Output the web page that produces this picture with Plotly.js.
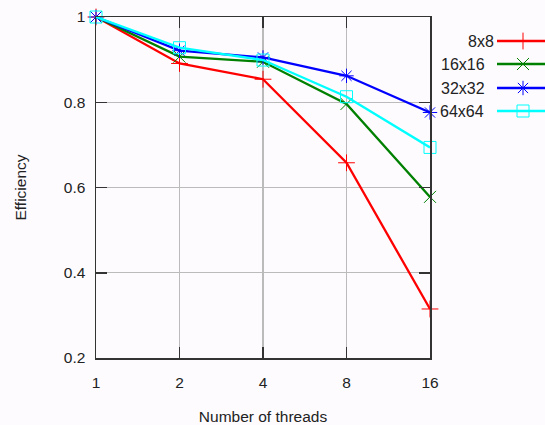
<!DOCTYPE html>
<html><head><meta charset="utf-8">
<script src="https://cdn.plot.ly/plotly-3.0.1.min.js"></script>
<style>html,body{margin:0;padding:0;background:#fdfbfe;}#c{width:545px;height:425px;}</style>
</head><body><div id="c"></div>
<script>
const threads = [1, 2, 4, 8, 16];
const tickLabels = ['1', '2', '4', '8', '16'];
const seriesNames = ['8x8', '16x16', '32x32', '64x64'];
const eff8 = [1.0, 0.891, 0.854, 0.658, 0.315];
const eff16 = [1.0, 0.907, 0.895, 0.796, 0.578];
const eff32 = [1.0, 0.921, 0.905, 0.862, 0.776];
const eff64 = [1.0, 0.928, 0.899, 0.813, 0.694];
const colors = ['#ff0000', '#008000', '#0000ff', '#00ffff'];
const symbols = ['cross-thin-open', 'x-thin-open', 'asterisk-open', 'square-open'];
const allSeries = [eff8, eff16, eff32, eff64];

const W = 545, H = 425;
const font = {family: 'Liberation Sans, Arial, sans-serif', size: 15.5, color: '#222'};

const traces = [];
allSeries.forEach((ys, i) => {
  traces.push({
    x: threads, y: ys, type: 'scatter', mode: 'lines+markers', name: seriesNames[i],
    line: {color: colors[i], width: 2.3},
    marker: {symbol: symbols[i], size: 12, color: colors[i], line: {color: colors[i], width: 1}},
    cliponaxis: false, showlegend: false
  });
});
// manual legend samples (text left of sample, like the reference)
const legY = [41, 64, 88, 111];
const legTextRight = [494, 485, 485, 484];
const annotations = [];
seriesNames.forEach((n, i) => {
  traces.push({
    x: [497, 545], y: [legY[i], legY[i]], xaxis: 'x2', yaxis: 'y2', type: 'scatter', mode: 'lines',
    line: {color: colors[i], width: 2.3}, showlegend: false, hoverinfo: 'skip', cliponaxis: false
  });
  traces.push({
    x: [523], y: [legY[i]], xaxis: 'x2', yaxis: 'y2', type: 'scatter', mode: 'markers',
    marker: {symbol: symbols[i], size: 12, color: colors[i], line: {color: colors[i], width: 1}},
    showlegend: false, hoverinfo: 'skip', cliponaxis: false
  });
  annotations.push({
    xref: 'x2', yref: 'y2', x: legTextRight[i], y: legY[i], text: n, showarrow: false,
    xanchor: 'right', yanchor: 'middle', font: Object.assign({}, font, {size: 16}),
    xshift: 2
  });
});

const layout = {
  width: W, height: H,
  margin: {l: 0, r: 0, t: 0, b: 0, autoexpand: false},
  paper_bgcolor: '#fdfbfe', plot_bgcolor: 'rgba(0,0,0,0)',
  font: font,
  showlegend: false,
  xaxis: {
    type: 'log', domain: [96 / W, 430 / W], range: [0, Math.log10(16)],
    tickvals: threads, ticktext: tickLabels,
    ticks: 'inside', ticklen: 11, tickcolor: '#333', tickwidth: 1.5,
    showline: true, linecolor: '#333', linewidth: 1.5, mirror: 'ticks',
    showgrid: true, gridcolor: '#bbbbbb', gridwidth: 1.2, zeroline: false,
    tickfont: font, ticklabelstandoff: 10,
    title: {text: 'Number of threads', font: font, standoff: 24}
  },
  yaxis: {
    domain: [(H - 358) / H, (H - 17) / H], range: [0.2, 1.0],
    tickvals: [0.2, 0.4, 0.6, 0.8, 1.0], ticktext: ['0.2', '0.4', '0.6', '0.8', '1'],
    ticks: 'inside', ticklen: 11, tickcolor: '#333', tickwidth: 1.5,
    showline: true, linecolor: '#333', linewidth: 1.5, mirror: 'ticks',
    showgrid: true, gridcolor: '#bbbbbb', gridwidth: 1.2, zeroline: false,
    tickfont: font, ticklabelstandoff: 6,
    title: {text: 'Efficiency', font: font, standoff: 33}
  },
  xaxis2: {domain: [0, 1], range: [0, W], visible: false, fixedrange: true, anchor: 'y2'},
  yaxis2: {domain: [0, 1], range: [H, 0], visible: false, fixedrange: true, anchor: 'x2'},
  annotations: annotations
};
Plotly.newPlot('c', traces, layout, {staticPlot: true, displayModeBar: false});
</script></body></html>
